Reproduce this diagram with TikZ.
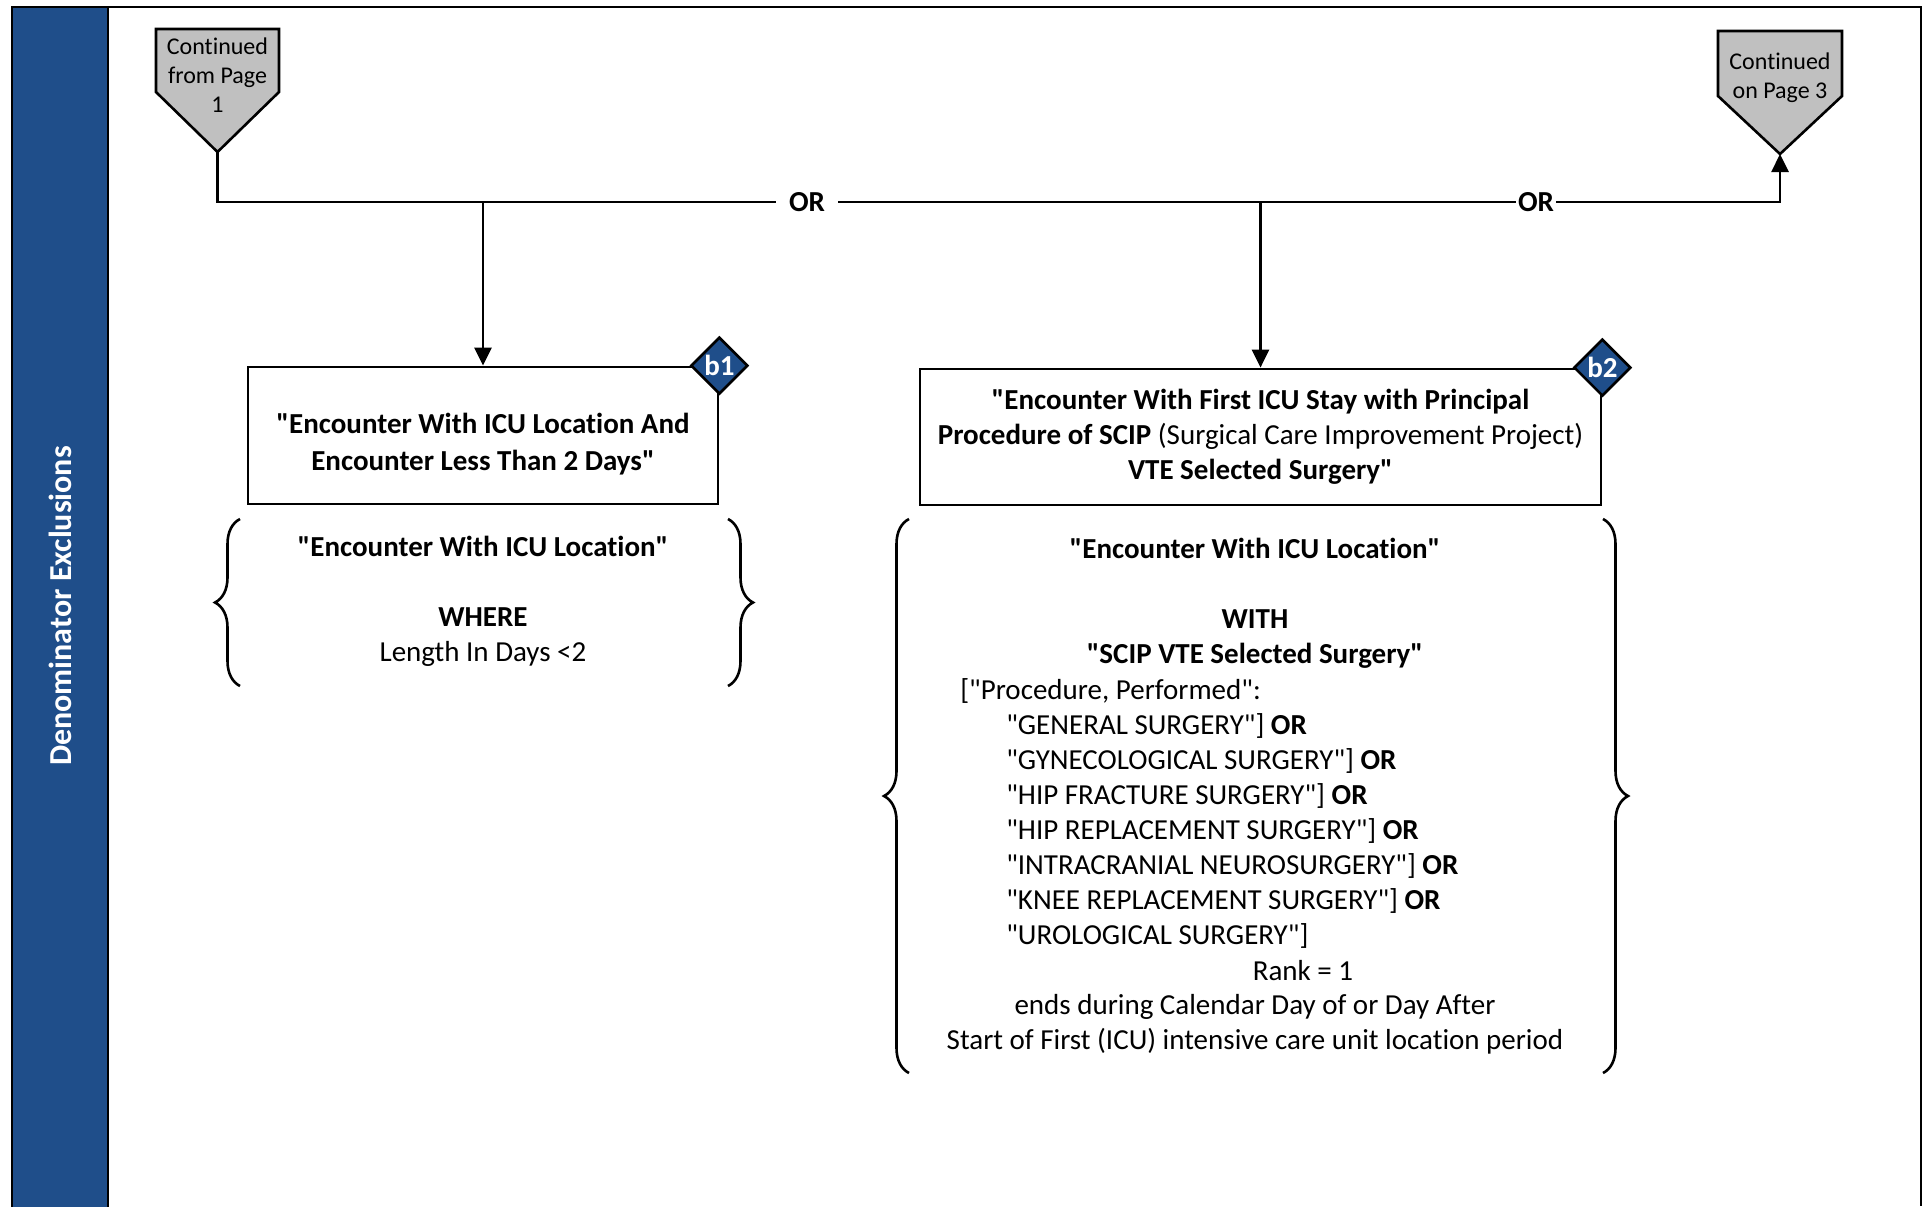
\documentclass[tikz,border=0pt]{standalone}
\usepackage{fontspec}
\newfontfamily\diagfont{Carlito}[Ligatures=CommonOff]
\usetikzlibrary{positioning,shapes.geometric,arrows.meta,decorations.pathreplacing}
\definecolor{bandblue}{HTML}{1F4E8A}
\definecolor{pagegray}{HTML}{C0C0C0}

\begin{document}
\diagfont
\begin{tikzpicture}[x={(0.5pt,0)}, y={(0,-0.5pt)}, line width=1.3pt,
>={Triangle[length=9pt,width=8.5pt]},
txtnode/.style={font=\diagfont\fontsize{14.5pt}{17.5pt}\selectfont, inner sep=0pt, align=center},
squarednode/.style={rectangle, draw=black, fill=white, line width=1.4pt, txtnode},
badgenode/.style={diamond, draw=black, fill=bandblue, line width=1.3pt, inner sep=0pt, minimum width=28.5pt, minimum height=28.5pt, text=white, font=\diagfont\fontsize{14.5pt}{17.5pt}\selectfont\bfseries},
pagenode/.style={font=\diagfont\fontsize{12pt}{14.5pt}\selectfont, inner sep=0pt, align=center},
pageshape/.style={draw=black, fill=pagegray, line width=1.3pt},
ornode/.style={font=\diagfont\fontsize{14.5pt}{17.5pt}\selectfont\bfseries, fill=white, inner ysep=0pt},
bracepath/.style={decorate, decoration={brace, amplitude=12.5pt}, line width=1.3pt},
]
\useasboundingbox (0,0) rectangle (1927,1206);
\fill[white] (0,0) rectangle (1927,1206);

%Frame and lane
\draw (12,1206) -- (12,7) -- (1921,7) -- (1921,1206);
\draw[fill=bandblue] (12,7) rectangle (108,1212);
\node[rotate=90, text=white, font=\diagfont\fontsize{16pt}{19pt}\selectfont\bfseries] (lane) at (60,606) {Denominator Exclusions};

%Page connectors
\draw[pageshape] (156,29) -- (279,29) -- (279,92) -- (217.5,152) -- (156,92) -- cycle;
\coordinate (from1) at (217.5,152);
\node[pagenode] (from1txt) at (217.5,75) {Continued\\from Page\\1};
\draw[pageshape] (1718,31) -- (1842,31) -- (1842,96) -- (1780,154) -- (1718,96) -- cycle;
\coordinate (on3) at (1780,154);
\node[pagenode] (on3txt) at (1780,78) {Continued\\on Page 3};

%Nodes
\node[squarednode, font=\diagfont\fontsize{14.5pt}{17.5pt}\selectfont\bfseries, minimum width=235pt, minimum height=68.5pt] (b1) at (483,435.5) {\rule{0pt}{19pt}"Encounter With ICU Location And\\[1pt]Encounter Less Than 2 Days"};
\node[squarednode, minimum width=340.5pt, minimum height=68pt] (b2) at (1260.5,437) {\textbf{"Encounter With First ICU Stay with Principal}\\\textbf{Procedure of SCIP} (Surgical Care Improvement Project)\\\textbf{VTE Selected Surgery"}};
\node[badgenode] (b1tag) at (b1.north east) {b1};
\node[badgenode] (b2tag) at (b2.north east) {b2};

\node[ornode, inner xsep=6pt] (or1) at (807,202) {OR};
\node[ornode, inner xsep=0.5pt] (or2) at (1536,202) {OR};
\coordinate (j1) at (b1.north |- or1);
\coordinate (j2) at (b2.north |- or1);

%Criteria
\node[txtnode] (s1) at (483,601.5) {\textbf{"Encounter With ICU Location"}\\[17.5pt]\textbf{WHERE}\\Length In Days <2};
\node[txtnode] (s2head) at (1255,603) {\textbf{"Encounter With ICU Location"}\\[17.5pt]\textbf{WITH}\\\textbf{"SCIP VTE Selected Surgery"}};
\node[txtnode, align=left, anchor=west] (s2list) at (959,813) {["Procedure, Performed":\\
\hspace*{23pt}"GENERAL SURGERY"] \textbf{OR}\\
\hspace*{23pt}"GYNECOLOGICAL SURGERY"] \textbf{OR}\\
\hspace*{23pt}"HIP FRACTURE SURGERY"] \textbf{OR}\\
\hspace*{23pt}"HIP REPLACEMENT SURGERY"] \textbf{OR}\\
\hspace*{23pt}"INTRACRANIAL NEUROSURGERY"] \textbf{OR}\\
\hspace*{23pt}"KNEE REPLACEMENT SURGERY"] \textbf{OR}\\
\hspace*{23pt}"UROLOGICAL SURGERY"]};
\node[txtnode] (s2rank) at (1303,971) {Rank = 1};
\node[txtnode] (s2tail) at (1255,1024) {ends during Calendar Day of or Day After\\Start of First (ICU) intensive care unit location period};

%Braces
\draw[bracepath] (240,686) -- (240,519);
\draw[bracepath] (728,519) -- (728,686);
\draw[bracepath] (909,1073) -- (909,519);
\draw[bracepath] (1603,519) -- (1603,1073);

%Lines
\draw (from1) |- (or1.west);
\draw (or1.east) -- (or2.west);
\draw[->] (or2.east) -| (on3);
\draw[->] (j1) -- (b1.north);
\draw[->] (j2) -- (b2.north);
\end{tikzpicture}
\end{document}
